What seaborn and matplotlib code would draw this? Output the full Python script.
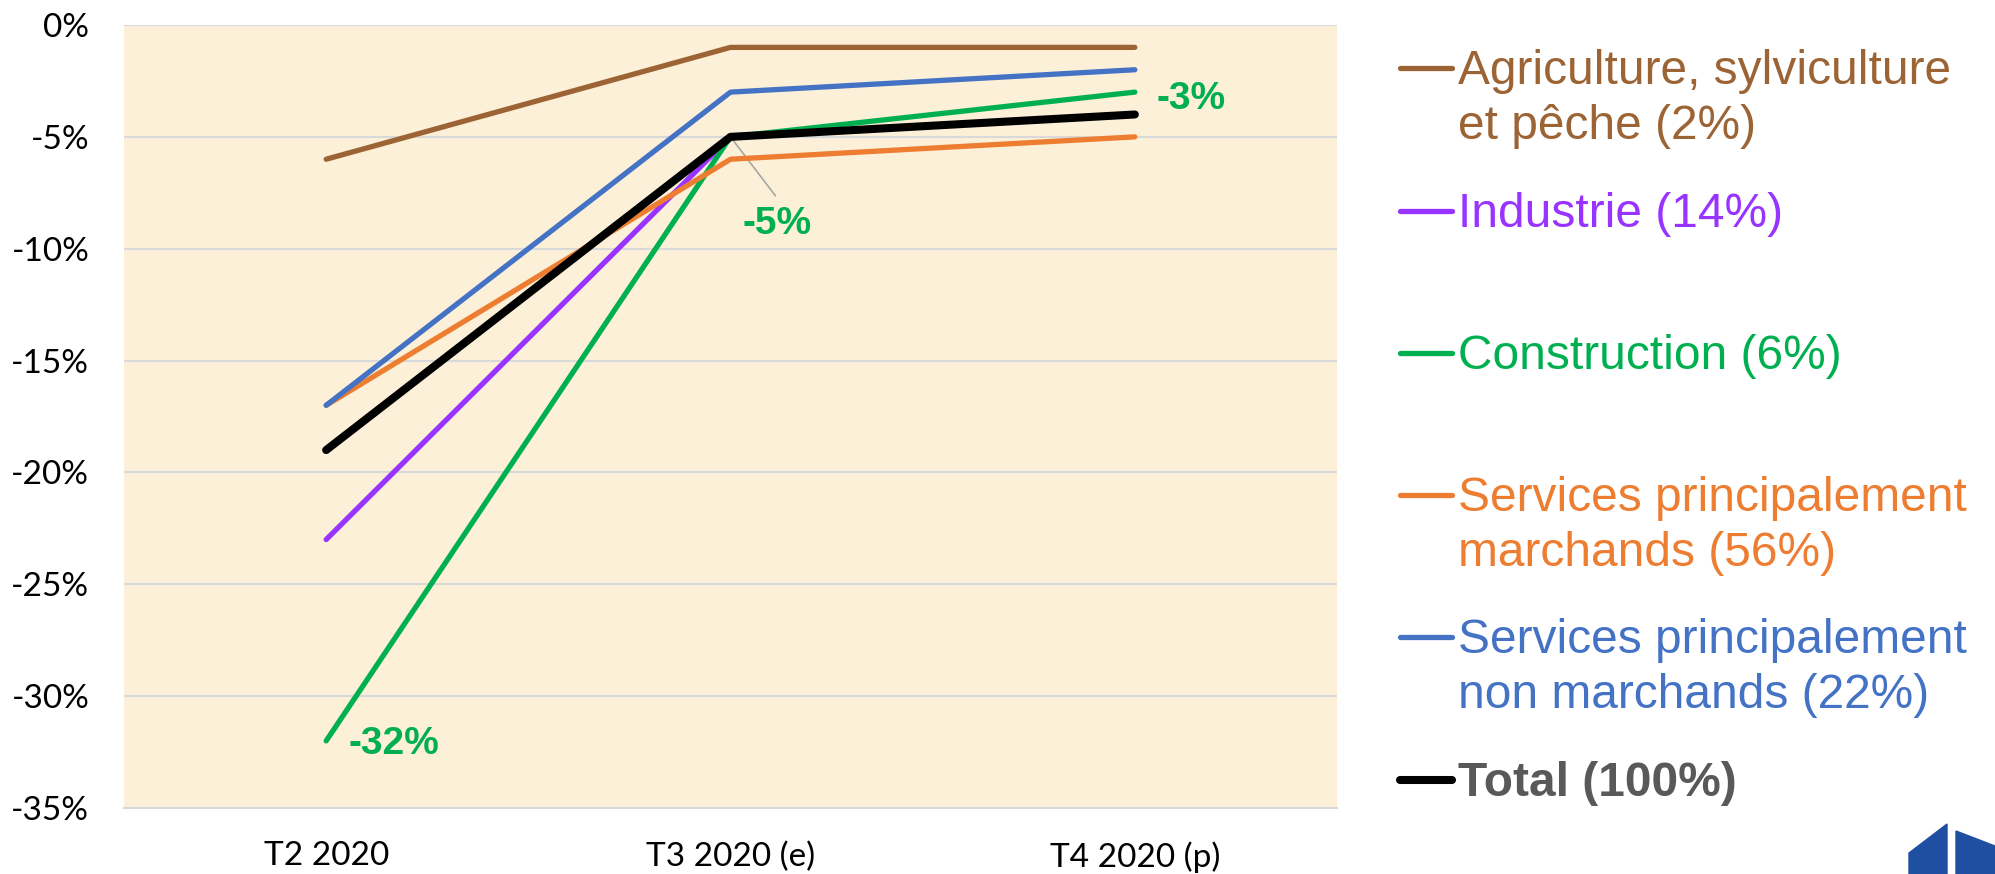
import pandas as pd
import seaborn as sns
import matplotlib.pyplot as plt
from matplotlib.lines import Line2D
from matplotlib.patches import Polygon

# ============================
# Data
# ============================
periodes = ["T2 2020", "T3 2020 (e)", "T4 2020 (p)"]

secteurs = [
    "Agriculture, sylviculture\net pêche (2%)",
    "Industrie (14%)",
    "Construction (6%)",
    "Services principalement\nmarchands (56%)",
    "Services principalement\nnon marchands (22%)",
    "Total (100%)",
]

agriculture = [-6, -1, -1]
industrie = [-23, -5, -4]
construction = [-32, -5, -3]
services_marchands = [-17, -6, -5]
services_non_marchands = [-17, -3, -2]
total = [-19, -5, -4]

valeurs = [agriculture, industrie, construction,
           services_marchands, services_non_marchands, total]

y_ticks = [0, -5, -10, -15, -20, -25, -30, -35]

# ============================
# Styles
# ============================
couleurs = ["#9C6434", "#9933FF", "#00B050", "#ED7D31", "#4472C4", "#000000"]
couleurs_texte = ["#9C6434", "#9933FF", "#00B050", "#ED7D31", "#4472C4", "#595959"]
epaisseurs = [3.8, 3.8, 3.8, 3.8, 3.8, 5.8]

sns.set_style("white")
plt.rcParams["font.family"] = ["Lato", "DejaVu Sans"]

W, H = 1995, 874


def fx(px):
    return px / W


def fy(py):
    return 1 - py / H


fig = plt.figure(figsize=(W / 100, H / 100), dpi=100)
ax = fig.add_axes([fx(124), fy(808), (1337 - 124) / W, (808 - 25) / H])
ax.set_facecolor("#FCF0D8")

# ============================
# Lines
# ============================
for nom, vals, col, lw in zip(secteurs, valeurs, couleurs, epaisseurs):
    df = pd.DataFrame({"periode": periodes, "valeur": vals})
    sns.lineplot(data=df, x="periode", y="valeur", color=col, linewidth=lw,
                 sort=False, ax=ax, solid_capstyle="round", zorder=3)

# data labels (Construction)
lab_font = dict(family=["Liberation Sans", "DejaVu Sans"], size=28,
                weight="bold", color="#00B050")
ax.annotate(f"{construction[0]}%", xy=(0, construction[0]), xytext=(22, -3),
            textcoords="offset pixels", ha="left", va="center", **lab_font)
ax.annotate("", xy=(1, construction[1]), xytext=(45, -59),
            textcoords="offset pixels",
            arrowprops=dict(arrowstyle="-", color="#A6A6A6", lw=1.2,
                            shrinkA=0, shrinkB=0), zorder=2)
ax.annotate(f"{construction[1]}%", xy=(1, construction[1]), xytext=(12, -87),
            textcoords="offset pixels", ha="left", va="center", **lab_font)
ax.annotate(f"{construction[2]}%", xy=(2, construction[2]), xytext=(22, -7),
            textcoords="offset pixels", ha="left", va="center", **lab_font)

# ============================
# Axes
# ============================
ax.set_xlim(-0.5, 2.5)
ax.set_ylim(-35, 0)
ax.set_yticks(y_ticks)
ax.set_yticklabels([f"{v}%" for v in y_ticks])
ax.set_xlabel("")
ax.set_ylabel("")
ax.yaxis.grid(True, color="#D9D9D9", linewidth=1.5)
ax.set_axisbelow(True)
for s in ["top", "right", "left"]:
    ax.spines[s].set_visible(False)
ax.spines["bottom"].set_color("#D9D9D9")
ax.spines["bottom"].set_linewidth(1.5)
ax.tick_params(axis="y", length=0, pad=25, labelsize=24, labelcolor="black")
ax.tick_params(axis="x", length=0, pad=24, labelsize=24, labelcolor="black")

# ============================
# Legend (drawn by hand on the right)
# ============================
leg_y = [68, 211, 353, 495, 637, 780]
for nom, col, tcol, lw, y in zip(secteurs, couleurs, couleurs_texte, epaisseurs, leg_y):
    fig.add_artist(Line2D([fx(1400), fx(1452)], [fy(y), fy(y)], color=col,
                          linewidth=lw, solid_capstyle="round",
                          transform=fig.transFigure))
    for k, ligne in enumerate(nom.split("\n")):
        fig.text(fx(1458), fy(y + 16 + 55 * k), ligne, color=tcol,
                 family=["Liberation Sans", "DejaVu Sans"], size=34.5,
                 weight="bold" if nom.startswith("Total") else "normal",
                 ha="left", va="baseline")

# logo corner
fig.add_artist(Polygon([(fx(1909), fy(874)), (fx(1909), fy(853)),
                        (fx(1947), fy(824)), (fx(1947), fy(874))],
                       closed=True, color="#1F4FA0", transform=fig.transFigure))
fig.add_artist(Polygon([(fx(1956), fy(874)), (fx(1956), fy(831)),
                        (fx(1995), fy(846)), (fx(1995), fy(874))],
                       closed=True, color="#1F4FA0", transform=fig.transFigure))

fig.savefig("out.png", dpi=100)
